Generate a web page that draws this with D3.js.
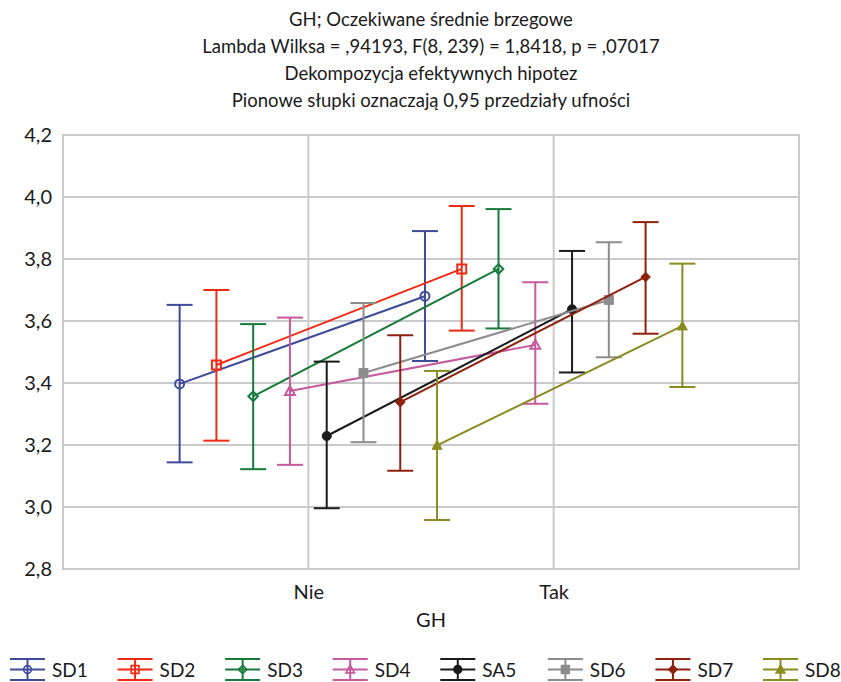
<!DOCTYPE html>
<html>
<head>
<meta charset="utf-8">
<script src="https://cdn.jsdelivr.net/npm/d3@7"></script>
<style>
body { margin: 0; background: #fff; }
text { font-family: Lato, "Noto Sans", sans-serif; fill: #1a1a1a; }
</style>
</head>
<body>
<div id="main"></div>
<script>
// chart values
const titleLines = [
	"GH; Oczekiwane średnie brzegowe",
	"Lambda Wilksa = ,94193, F(8, 239) = 1,8418, p = ,07017",
	"Dekompozycja efektywnych hipotez",
	"Pionowe słupki oznaczają 0,95 przedziały ufności"
];
const categories = ["Nie", "Tak"];
const series = ["SD1", "SD2", "SD3", "SD4", "SA5", "SD6", "SD7", "SD8"];
const meanNie = [3.397, 3.458, 3.357, 3.374, 3.229, 3.432, 3.338, 3.199];
const lowNie  = [3.144, 3.214, 3.122, 3.136, 2.996, 3.209, 3.117, 2.958];
const highNie = [3.652, 3.700, 3.590, 3.611, 3.469, 3.658, 3.554, 3.439];
const meanTak = [3.680, 3.768, 3.768, 3.523, 3.638, 3.668, 3.742, 3.584];
const lowTak  = [3.471, 3.569, 3.576, 3.333, 3.434, 3.483, 3.559, 3.387];
const highTak = [3.890, 3.971, 3.961, 3.725, 3.826, 3.854, 3.919, 3.785];
const yTicks = [2.8, 3.0, 3.2, 3.4, 3.6, 3.8, 4.0, 4.2];
const xTitle = "GH";

// styles
const colors = ["#3f4a9a", "#f02a12", "#177a3a", "#c65a9c", "#1a1a1a", "#8c8c8c", "#8e200c", "#8b8b22"];
const shapes = ["circle", "square", "diamond", "triangle", "circle", "square", "diamond", "triangle"];
const filled = [false, false, false, false, true, true, true, true];

let margin = {top: 135, right: 42, bottom: 113, left: 63};
let width = 841 - margin.left - margin.right;
let height = 682 - margin.top - margin.bottom;

let x = d3.scalePoint()
	.domain(categories)
	.range([0, width])
	.padding(1);

let offset = d3.scalePoint()
	.domain(series)
	.range([-128.7, 128.7]);

let y = d3.scaleLinear()
	.domain([2.8, 4.2])
	.range([height, 0]);

// legend item positions follow the series order
let legendX = d3.scalePoint()
	.domain(series)
	.range([10, 763]);

const markerPath = (shape) => {
	if (shape == "circle") return d3.symbol(d3.symbolCircle, 64)();
	if (shape == "square") return "M-4.5,-4.5H4.5V4.5H-4.5Z";
	if (shape == "diamond") return "M0,-4.8L4.8,0L0,4.8L-4.8,0Z";
	return "M0,-5L5,4H-5Z";
};

const rows = series.map((s, i) => ({
	name: s, i: i,
	pts: [
		{cat: "Nie", mean: meanNie[i], low: lowNie[i], high: highNie[i]},
		{cat: "Tak", mean: meanTak[i], low: lowTak[i], high: highTak[i]}
	]
}));

let root = d3.select("#main")
	.append("svg")
		.attr("width", 841)
		.attr("height", 682);

// titles
root.append("g")
	.selectAll("text")
	.data(titleLines)
	.enter()
	.append("text")
		.attr("x", 431)
		.attr("y", (d, i) => 26 + i * 27)
		.attr("text-anchor", "middle")
		.style("font-size", "18.5px")
		.text(d => d);

let svg = root.append("g")
	.attr("transform", `translate(${margin.left}, ${margin.top})`);

// grid
const grid = "#c9c9ce";
svg.append("g")
	.selectAll("line")
	.data(yTicks)
	.enter()
	.append("line")
		.attr("x1", 0).attr("x2", width)
		.attr("y1", d => y(d)).attr("y2", d => y(d))
		.style("stroke", grid).style("stroke-width", 2);
svg.append("g")
	.selectAll("line")
	.data(categories)
	.enter()
	.append("line")
		.attr("x1", d => x(d)).attr("x2", d => x(d))
		.attr("y1", 0).attr("y2", height)
		.style("stroke", grid).style("stroke-width", 2);
svg.append("rect")
	.attr("width", width).attr("height", height)
	.style("fill", "none").style("stroke", grid).style("stroke-width", 2);

// axes
let yAxis = svg.append("g")
	.call(d3.axisLeft(y).tickValues(yTicks).tickSize(0).tickPadding(11)
		.tickFormat(d => d3.format(".1f")(d).replace(".", ",")));
yAxis.select(".domain").remove();
yAxis.selectAll("text").style("font-size", "20px").attr("fill", null);

let xAxis = svg.append("g")
	.attr("transform", `translate(0,${height})`)
	.call(d3.axisBottom(x).tickSize(0).tickPadding(16));
xAxis.select(".domain").remove();
xAxis.selectAll("text").style("font-size", "20px").attr("fill", null);

svg.append("text")
	.attr("x", width / 2)
	.attr("y", height + 58)
	.attr("text-anchor", "middle")
	.style("font-size", "20px")
	.text(xTitle);

// series
const px = (s, p) => x(p.cat) + offset(s.name);
const cap = 13;

let g = svg.append("g")
	.selectAll("g")
	.data(rows)
	.enter()
	.append("g")
		.style("stroke", d => colors[d.i])
		.style("stroke-width", 2)
		.style("fill", "none");

g.append("line")
	.attr("x1", d => px(d, d.pts[0])).attr("y1", d => y(d.pts[0].mean))
	.attr("x2", d => px(d, d.pts[1])).attr("y2", d => y(d.pts[1].mean));

g.each(function(s) {
	let sel = d3.select(this);
	s.pts.forEach(p => {
		let cx = px(s, p);
		sel.append("line").attr("x1", cx).attr("x2", cx).attr("y1", y(p.low)).attr("y2", y(p.high));
		sel.append("line").attr("x1", cx - cap).attr("x2", cx + cap).attr("y1", y(p.low)).attr("y2", y(p.low));
		sel.append("line").attr("x1", cx - cap).attr("x2", cx + cap).attr("y1", y(p.high)).attr("y2", y(p.high));
		sel.append("path")
			.attr("d", markerPath(shapes[s.i]))
			.attr("transform", `translate(${cx},${y(p.mean)})`)
			.style("fill", filled[s.i] ? colors[s.i] : "none")
			.style("stroke-width", filled[s.i] ? 1 : 2);
	});
});

// legend
let legend = root.append("g");
series.forEach((s, i) => {
	let it = legend.append("g")
		.attr("transform", `translate(${legendX(s)},0)`)
		.style("stroke", colors[i]).style("stroke-width", 2);
	[659, 669.5, 680].forEach(ly => it.append("line").attr("x1", 0).attr("x2", 35).attr("y1", ly).attr("y2", ly));
	it.append("line").attr("x1", 17.5).attr("x2", 17.5).attr("y1", 659).attr("y2", 680);
	it.append("path")
		.attr("d", markerPath(shapes[i]))
		.attr("transform", "translate(17.5,669.5) scale(0.85)")
		.style("fill", filled[i] ? colors[i] : "none");
	it.append("text")
		.attr("x", 42)
		.attr("y", 676.5)
		.style("font-size", "19px")
		.style("stroke", "none")
		.text(s);
});
</script>
</body>
</html>
